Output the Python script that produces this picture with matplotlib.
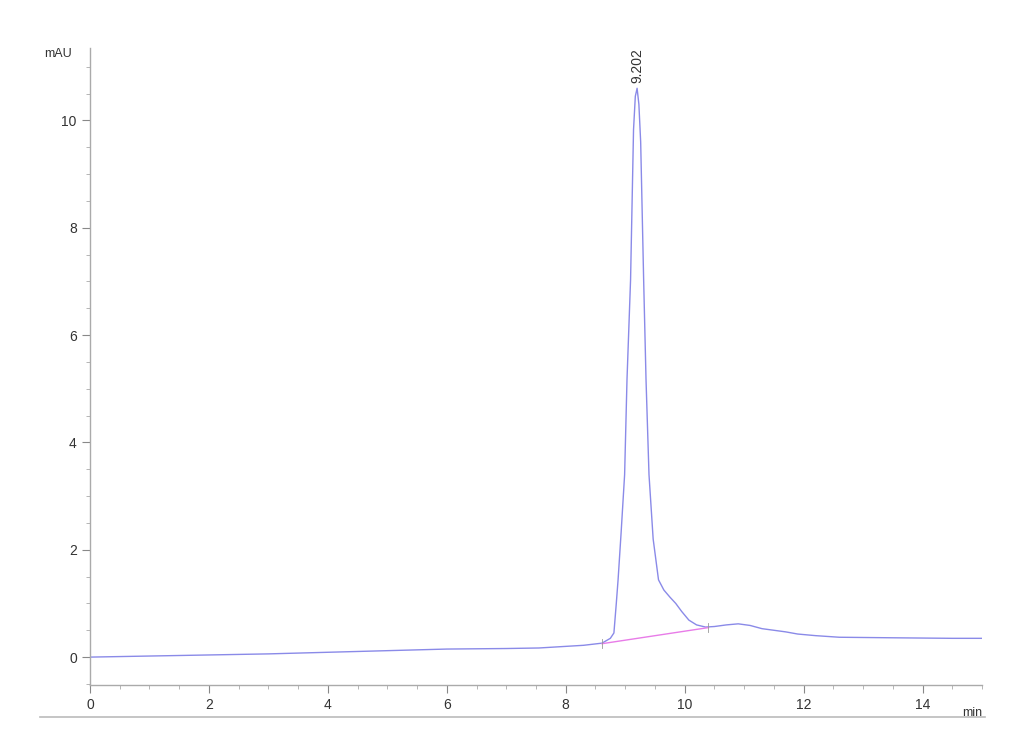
import matplotlib.pyplot as plt
from matplotlib.lines import Line2D
from matplotlib.ticker import MultipleLocator

plt.rcParams['font.family'] = ['Liberation Sans', 'DejaVu Sans']

# signal trace (min, mAU)
time = [0.0, 1.0, 2.0, 3.0, 4.0, 5.0, 6.0, 7.0, 7.55, 8.0, 8.3, 8.61, 8.75,
        8.81, 8.85, 8.88, 8.93, 8.99, 9.03, 9.09, 9.14, 9.17, 9.2, 9.23, 9.26,
        9.31, 9.35, 9.4, 9.47, 9.56, 9.65, 9.75, 9.85, 9.95, 10.07, 10.2,
        10.35, 10.5, 10.7, 10.9, 11.1, 11.3, 11.5, 11.7, 11.9, 12.2, 12.6,
        13.5, 14.5, 15.0]
signal = [0.0, 0.02, 0.04, 0.06, 0.09, 0.12, 0.15, 0.16, 0.17, 0.2, 0.22, 0.26,
          0.35, 0.45, 1.0, 1.44, 2.3, 3.4, 5.17, 7.03, 9.83, 10.45, 10.6, 10.3,
          9.6, 7.03, 5.17, 3.4, 2.2, 1.44, 1.25, 1.12, 1.0, 0.85, 0.69, 0.6,
          0.56, 0.57, 0.6, 0.62, 0.59, 0.53, 0.5, 0.47, 0.43, 0.4, 0.37, 0.36,
          0.35, 0.35]

# integration baseline
base_t = [8.61, 10.4]
base_y = [0.25, 0.55]

peak_rt = 9.202
peak_h = 10.6

fig = plt.figure(figsize=(10.3, 7.55), dpi=100)
ax = fig.add_axes([0.0874, 0.0927, 0.866, 0.8437])

ax.plot(time, signal, color='#8a8ae8', lw=1.0)
ax.plot(base_t, base_y, color='#e87ce8', lw=1.0)
for t, y in zip(base_t, base_y):
    ax.plot([t, t], [y - 0.08, y + 0.08], color='#999999', lw=0.6)

ax.text(peak_rt, peak_h + 0.1, f'{peak_rt:.3f}', rotation=90, ha='center',
        va='bottom', fontsize=10, color='#333333')

ax.set_xlim(0, 15)
ax.set_ylim(-0.52, 11.35)
ax.xaxis.set_major_locator(MultipleLocator(2))
ax.xaxis.set_minor_locator(MultipleLocator(0.5))
ax.yaxis.set_major_locator(MultipleLocator(2))
ax.yaxis.set_minor_locator(MultipleLocator(0.5))

for s in ['top', 'right']:
    ax.spines[s].set_visible(False)
for s in ['left', 'bottom']:
    ax.spines[s].set_color('#aaaaaa')
    ax.spines[s].set_linewidth(1.0)

ax.tick_params(which='major', length=6, color='#888888', labelsize=10,
               labelcolor='#333333')
ax.tick_params(which='minor', length=3, color='#aaaaaa')

ax.text(-0.02, 1.0, 'mAU', transform=ax.transAxes, ha='right', va='top',
        fontsize=9, color='#333333')
ax.text(1.0, -0.035, 'min', transform=ax.transAxes, ha='right', va='top',
        fontsize=9, color='#333333')

fig.add_artist(Line2D([40 / 1030, 985 / 1030], [1 - 717 / 755, 1 - 717 / 755],
                      color='#bbbbbb', lw=1.2))

plt.savefig('out.png', dpi=100)
